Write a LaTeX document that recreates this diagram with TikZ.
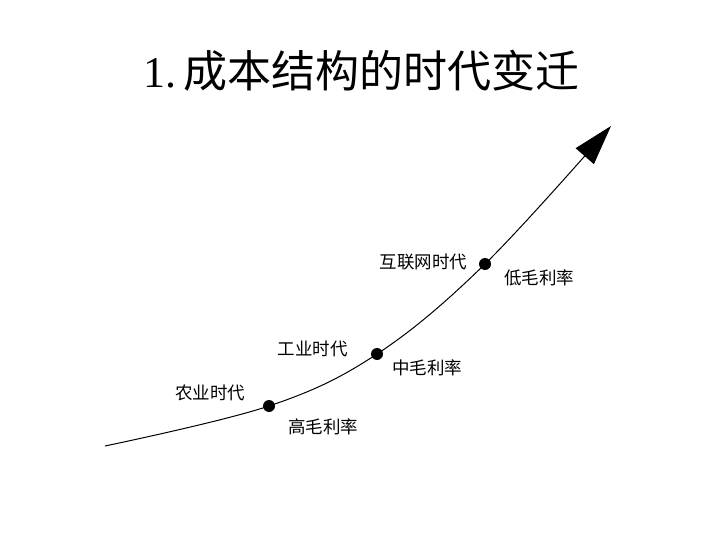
\documentclass[tikz,border=0pt]{standalone}
\usepackage{fontspec}
\setmainfont{Liberation Serif}
\newfontfamily\cjk{Noto Sans CJK SC}
\usetikzlibrary{arrows.meta}
\tikzset{
  lbl/.style={font=\cjk\fontsize{17.5}{19}\selectfont, inner sep=0pt},
  dot/.style={circle, fill=black, inner sep=0pt, minimum size=12pt},
  curve/.style={line width=1pt, -{Triangle[length=40pt,width=24pt]}}
}
\begin{document}
\begin{tikzpicture}[x=1pt,y=-1pt]
\useasboundingbox (0,0) rectangle (720,540);
\node[inner sep=0pt, anchor=west] (title) at (143,71) {\fontsize{44}{48}\selectfont 1.\,{\cjk 成本结构的时代变迁}};
\coordinate (start) at (105,446);
\coordinate (tip) at (611,126);
\node[dot] (d1) at (269,406) {};
\node[dot] (d2) at (377,354) {};
\node[dot] (d3) at (485,264) {};
\draw[curve] plot[smooth, tension=0.6] coordinates {(105,446) (269,406) (377,354) (485,264) (611,126)};
\node[lbl] (e1) at (210,393) {农业时代};
\node[lbl] (m1) at (323,427) {高毛利率};
\node[lbl] (e2) at (312.5,349) {工业时代};
\node[lbl] (m2) at (427,368) {中毛利率};
\node[lbl] (e3) at (423.5,262) {互联网时代};
\node[lbl] (m3) at (539,278) {低毛利率};
\end{tikzpicture}
\end{document}
